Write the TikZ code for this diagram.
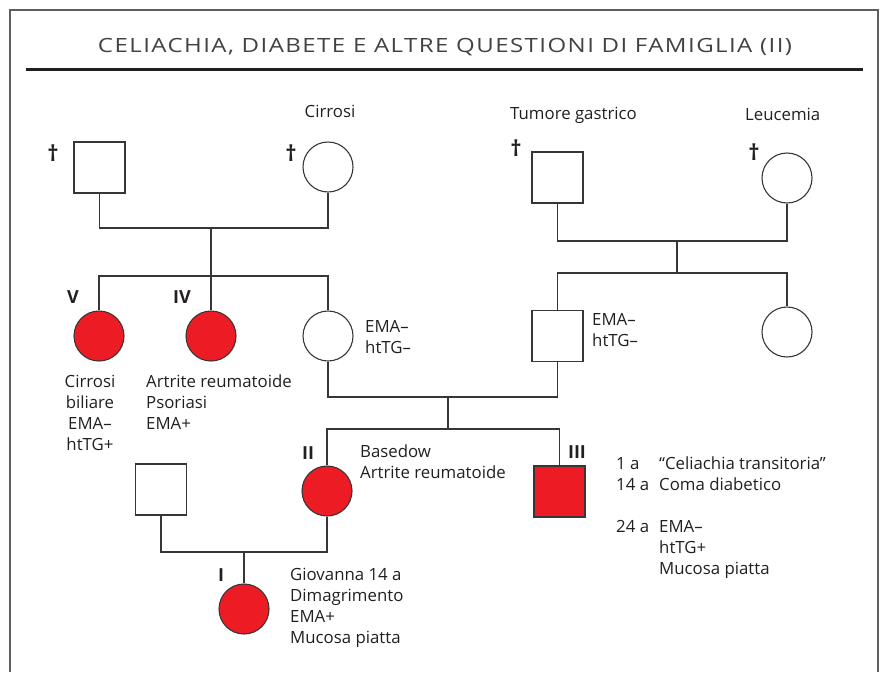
\documentclass[tikz,border=0pt]{standalone}
\usepackage{fontspec}
\setmainfont{Open Sans}
\definecolor{rosso}{RGB}{237,28,36}
\definecolor{inchiostro}{RGB}{35,31,32}
\colorlet{tratto}{inchiostro!90}
\usetikzlibrary{
  calc,
  positioning,
}
\newcommand{\anni}[1]{\makebox[43pt][l]{#1}}
\tikzset{
  legame/.style={draw=tratto, line width=1.1pt},
}

\begin{document}
\begin{tikzpicture}[x=1pt, y=-1pt,
    maschio/.style={draw=tratto, line width=1.1pt, rectangle, minimum size=51pt,
                    inner sep=0pt, fill=white},
    femmina/.style={draw=tratto, line width=1.1pt, circle, minimum size=50pt,
                    inner sep=0pt, fill=white},
    affetto/.style={fill=rosso},
    nota/.style={font=\fontsize{16.8}{21}\selectfont, text=inchiostro,
                 inner sep=0pt, align=left},
    numero/.style={font=\fontsize{18}{21}\selectfont\bfseries, text=inchiostro,
                   inner sep=0pt},
    croce/.style={font=\fontsize{22}{24}\selectfont\bfseries, text=inchiostro,
                  inner sep=0pt},
    titolo/.style={font=\fontsize{19.6}{24}\selectfont, text=inchiostro!85,
                   inner sep=0pt}]
  \useasboundingbox (0,0) rectangle (882,672);
  \draw [tratto!80, line width=1.6pt] (10,672) -- (10,10) -- (878,10) -- (878,672);
  \node [titolo, anchor=base] (titolo) at (445,52)
        {\resizebox{694pt}{\height}{\addfontfeature{LetterSpace=6}%
         CELIACHIA, DIABETE E ALTRE QUESTIONI DI FAMIGLIA (II)}};
  \draw [inchiostro, line width=3pt] (26,69) -- (863,69);

  % nonni
  \node [maschio] (nonno1) at (99.5,167.5) {};
  \node [femmina] (nonna1) at (328,167) {};
  \node [maschio] (nonno2) at (557.5,177.5) {};
  \node [femmina] (nonna2) at (787,178) {};
  \node [croce] (croce1) at (53,153) {\textdagger};
  \node [croce] (croce2) at (291,153) {\textdagger};
  \node [croce] (croce3) at (516,148) {\textdagger};
  \node [croce] (croce4) at (754,152) {\textdagger};
  \node [nota, anchor=base] (cirrosi) at (330,117) {Cirrosi};
  \node [nota, anchor=base west] (tumore) at (510,119) {Tumore gastrico};
  \node [nota, anchor=base west] (leucemia) at (745,120) {Leucemia};

  % figli
  \node [femmina, affetto] (zia5) at (99,336) {};
  \node [femmina, affetto] (zia4) at (211,336) {};
  \node [femmina] (madre) at (328,336) {};
  \node [maschio] (padre) at (557.5,336) {};
  \node [femmina] (zia) at (787,332) {};
  \node [numero] (n5) at (73,297) {V};
  \node [numero] (n4) at (182,297) {IV};

  \coordinate (m1) at (211,228);
  \coordinate (f1) at (211,276);
  \draw [legame] (nonno1.south) |- (m1) -| (nonna1.south);
  \draw [legame] (m1) -- (f1);
  \draw [legame] (zia5.north) |- (f1) -| (madre.north);
  \draw [legame] (zia4.north) -- (f1);

  \coordinate (m2) at (677,241);
  \coordinate (f2) at (677,273);
  \draw [legame] (nonno2.south) |- (m2) -| (nonna2.south);
  \draw [legame] (m2) -- (f2);
  \draw [legame] (padre.north) |- (f2) -| (zia.north);

  \node [nota, anchor=north, align=center] (testo5) at (90,375)
        {Cirrosi\\biliare\\EMA–\\htTG+};
  \node [nota, anchor=north west] (testo4) at (146,375)
        {Artrite reumatoide\\Psoriasi\\EMA+};
  \node [nota, anchor=north west] (testomadre) at (365,320) {EMA–\\htTG–};
  \node [nota, anchor=north west] (testopadre) at (592,313) {EMA–\\htTG–};

  % nipoti
  \node [femmina, affetto] (p2) at (327,491) {};
  \node [maschio, affetto] (p3) at (559.5,491.5) {};
  \node [maschio] (marito) at (161,489.5) {};
  \node [femmina, affetto] (p1) at (244,609) {};
  \node [numero] (n2) at (308,453) {II};
  \node [numero] (n3) at (577,452) {III};
  \node [numero] (n1) at (221,575) {I};

  \coordinate (m3) at (448,397);
  \coordinate (f3) at (448,429);
  \draw [legame] (madre.south) |- (m3) -| (padre.south);
  \draw [legame] (m3) -- (f3);
  \draw [legame] (p2.north) |- (f3) -| (p3.north);

  \coordinate (m4) at (244,552);
  \draw [legame] (marito.south) |- (m4) -| (p2.south);
  \draw [legame] (m4) -- (p1.north);

  \node [nota, anchor=north west] (testo2) at (360,445)
        {Basedow\\Artrite reumatoide};
  \node [nota, anchor=north west] (testo1) at (290,568)
        {Giovanna 14 a\\Dimagrimento\\EMA+\\Mucosa piatta};
  \node [nota, anchor=north west] (testo3) at (616,457)
        {\anni{1 a}“Celiachia transitoria”\\\anni{14 a}Coma diabetico\\[21pt]
         \anni{24 a}EMA–\\\anni{}htTG+\\\anni{}Mucosa piatta};
\end{tikzpicture}
\end{document}
